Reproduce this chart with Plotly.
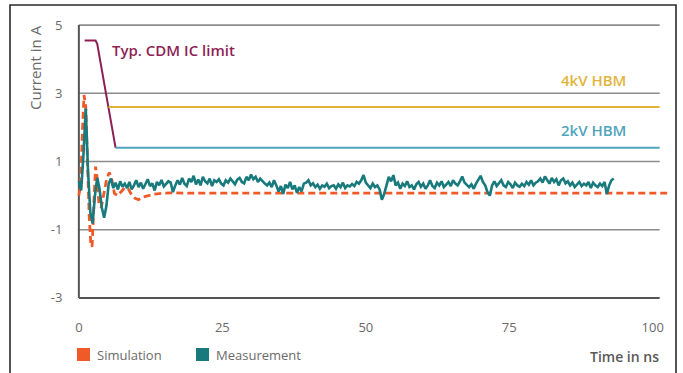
import numpy as np
import plotly.graph_objects as go

# ---- data ----------------------------------------------------------------
# measured current, sampled every 0.4 ns starting at t = 0
meas_dt = 0.4
meas_current = [
    0.42, 0.15, 1.2, 2.55, 0.7, -0.5, -0.82, 0.0, 0.52, 0.2, -0.35, -0.65, -0.3, 0.35, 0.5, 0.22, 0.38, 0.18, 0.42, 0.26,
    0.35, 0.22, 0.4, 0.18, 0.3, 0.45, 0.25, 0.38, 0.2, 0.33, 0.48, 0.28, 0.36, 0.15, 0.4, 0.3, 0.46, 0.27, 0.35, 0.42,
    0.38, 0.1, 0.3, 0.45, 0.32, 0.52, 0.35, 0.28, 0.5, 0.4, 0.58, 0.33, 0.47, 0.3, 0.55, 0.42, 0.36, 0.5, 0.28, 0.45,
    0.4, 0.48, 0.35, 0.3, 0.45, 0.38, 0.5, 0.42, 0.33, 0.47, 0.52, 0.4, 0.36, 0.55, 0.45, 0.62, 0.48, 0.55, 0.4, 0.5,
    0.42, 0.35, 0.3, 0.38, 0.25, 0.45, 0.3, 0.12, 0.28, 0.05, 0.32, 0.22, 0.4, 0.18, 0.3, 0.08, 0.25, 0.12, 0.35, 0.38,
    0.45, 0.3, 0.36, 0.25, 0.32, 0.2, 0.3, 0.26, 0.35, 0.22, 0.28, 0.3, 0.2, 0.33, 0.25, 0.38, 0.22, 0.3, 0.27, 0.34,
    0.28, 0.4, 0.35, 0.45, 0.6, 0.38, 0.3, 0.22, 0.35, 0.25, 0.3, 0.18, -0.12, 0.05, 0.3, 0.55, 0.42, 0.6, 0.3, 0.38,
    0.2, 0.35, 0.28, 0.42, 0.25, 0.3, 0.18, 0.33, 0.4, 0.26, 0.35, 0.2, 0.3, 0.45, 0.28, 0.22, 0.38, 0.3, 0.42, 0.25,
    0.32, 0.4, 0.28, 0.45, 0.35, 0.3, 0.42, 0.56, 0.38, 0.3, 0.25, 0.33, 0.2, 0.35, 0.45, 0.58, 0.4, 0.3, 0.1, 0.0,
    0.3, 0.42, 0.28, 0.35, 0.45, 0.3, 0.25, 0.4, 0.33, 0.22, 0.38, 0.3, 0.26, 0.35, 0.28, 0.4, 0.32, 0.45, 0.3, 0.38,
    0.42, 0.5, 0.38, 0.56, 0.45, 0.35, 0.52, 0.4, 0.48, 0.3, 0.45, 0.5, 0.36, 0.42, 0.3, 0.38, 0.25, 0.33, 0.4, 0.28,
    0.35, 0.3, 0.4, 0.22, 0.38, 0.3, 0.25, 0.35, 0.28, 0.4, 0.05, 0.3, 0.45, 0.5,
]
meas_time = np.arange(len(meas_current)) * meas_dt

# simulated current
sim_time = [0.0, 0.3, 0.6, 0.9, 1.2, 1.5, 1.8, 2.1, 2.3, 2.6, 2.9, 3.2, 3.5, 3.9, 4.3, 4.8,
            5.3, 5.7, 6.2, 6.8, 7.4, 8.0, 8.6, 9.2, 9.8, 10.4, 11.0, 12.0, 13.0, 14.0,
            16.0, 20.0, 40.0, 60.0, 80.0, 102.5]
sim_current = [0.0, 0.3, 1.8, 2.95, 2.6, 0.8, -0.6, -1.45, -1.5, -0.3, 0.85, 0.5, -0.25, -0.35,
               0.0, 0.45, 0.68, 0.5, 0.06, 0.0, 0.12, 0.24, 0.2, 0.02, -0.08, -0.12, -0.05,
               0.0, 0.04, 0.06, 0.08, 0.07, 0.07, 0.07, 0.07, 0.07]

# limit curves
cdm_time = [1.0, 2.9, 3.2, 6.4]
cdm_current = [4.55, 4.55, 4.45, 1.4]
hbm4_time = [5.15, 101.2]
hbm4_current = [2.6, 2.6]
hbm2_time = [6.4, 101.2]
hbm2_current = [1.4, 1.4]

y_ticks = [5, 3, 1, -1, -3]
y_tick_text = ["5", "3", "1", "-1", "-3"]
x_ticks = [0, 25, 50, 75, 100]
x_tick_text = ["0", "25", "50", "75", "100"]

# ---- colours ---------------------------------------------------------------
C_SIM = "#F05A28"
C_MEAS = "#187A7C"
C_CDM = "#8E1F55"
C_HBM4 = "#E2B43C"
C_HBM2 = "#4FA5BC"
C_TEXT = "#6a6a6a"
FONT = "Open Sans"

fig = go.Figure()

fig.add_trace(go.Scatter(x=cdm_time, y=cdm_current, mode="lines",
                         line=dict(color=C_CDM, width=2), showlegend=False))
fig.add_trace(go.Scatter(x=hbm4_time, y=hbm4_current, mode="lines",
                         line=dict(color=C_HBM4, width=2), showlegend=False))
fig.add_trace(go.Scatter(x=hbm2_time, y=hbm2_current, mode="lines",
                         line=dict(color=C_HBM2, width=2), showlegend=False))
fig.add_trace(go.Scatter(x=sim_time, y=sim_current, mode="lines",
                         line=dict(color=C_SIM, width=2.8, dash="7px,4px"),
                         showlegend=False))
fig.add_trace(go.Scatter(x=meas_time, y=meas_current, mode="lines",
                         line=dict(color=C_MEAS, width=2.6), showlegend=False))

# horizontal grid lines and the left axis line
shapes = []
for v in y_ticks:
    dark = v == -3
    shapes.append(dict(type="line", xref="x", yref="y", x0=0, x1=101.2, y0=v, y1=v,
                       line=dict(color="#555555" if dark else "#8C8C8C",
                                 width=2 if dark else 1.6), layer="below"))
shapes.append(dict(type="line", xref="x", yref="y", x0=0, x1=0, y0=-3, y1=5,
                   line=dict(color="#555555", width=2), layer="below"))

# outer frame
L, R, T, B = 76, 13, 20, 70
W, H = 683, 373
pw, ph = W - L - R, H - T - B


def px_x(p):
    return (p - L) / pw


def px_y(p):
    return (H - B - p) / ph


shapes.append(dict(type="rect", xref="paper", yref="paper",
                   x0=px_x(10), x1=px_x(676), y0=px_y(390), y1=px_y(5),
                   line=dict(color="#2a2a2a", width=1.6), fillcolor="rgba(0,0,0,0)"))

# legend swatches
shapes.append(dict(type="rect", xref="paper", yref="paper",
                   x0=px_x(77), x1=px_x(90), y0=px_y(361), y1=px_y(348),
                   line=dict(width=0), fillcolor=C_SIM))
shapes.append(dict(type="rect", xref="paper", yref="paper",
                   x0=px_x(196), x1=px_x(209), y0=px_y(361), y1=px_y(348),
                   line=dict(width=0), fillcolor=C_MEAS))

annotations = [
    dict(text="Typ. CDM IC limit", x=5.5, y=4.26, xref="x", yref="y",
         xanchor="left", yanchor="middle", showarrow=False,
         font=dict(family=FONT, size=15, color=C_CDM, weight=600)),
    dict(text="4kV HBM", x=95.6, y=3.38, xref="x", yref="y",
         xanchor="right", yanchor="middle", showarrow=False,
         font=dict(family=FONT, size=15, color=C_HBM4, weight=600)),
    dict(text="2kV HBM", x=95.6, y=1.91, xref="x", yref="y",
         xanchor="right", yanchor="middle", showarrow=False,
         font=dict(family=FONT, size=15, color=C_HBM2, weight=600)),
    dict(text="Current in A", x=px_x(35), y=px_y(68), xref="paper", yref="paper",
         textangle=-90, xanchor="center", yanchor="middle", showarrow=False,
         font=dict(family=FONT, size=15, color=C_TEXT)),
    dict(text="Time in ns", x=px_x(661), y=px_y(356), xref="paper", yref="paper",
         xanchor="right", yanchor="middle", showarrow=False,
         font=dict(family=FONT, size=14, color="#585858", weight=600)),
    dict(text="Simulation", x=px_x(95), y=px_y(355), xref="paper", yref="paper",
         xanchor="left", yanchor="middle", showarrow=False,
         font=dict(family=FONT, size=13, color=C_TEXT)),
    dict(text="Measurement", x=px_x(214), y=px_y(355), xref="paper", yref="paper",
         xanchor="left", yanchor="middle", showarrow=False,
         font=dict(family=FONT, size=13, color=C_TEXT)),
]

fig.update_layout(
    width=W, height=H,
    margin=dict(l=L, r=R, t=T, b=B, pad=0),
    paper_bgcolor="white", plot_bgcolor="white",
    showlegend=False,
    shapes=shapes, annotations=annotations,
    font=dict(family=FONT, color=C_TEXT),
    xaxis=dict(range=[-0.5, 103], showgrid=False, zeroline=False, showline=False,
               tickmode="array", tickvals=x_ticks, ticktext=x_tick_text,
               ticks="outside", ticklen=12, tickcolor="rgba(0,0,0,0)",
               tickfont=dict(family=FONT, size=13, color=C_TEXT)),
    yaxis=dict(range=[-3.15, 5.15], showgrid=False, zeroline=False, showline=False,
               tickmode="array", tickvals=y_ticks, ticktext=y_tick_text,
               ticks="outside", ticklen=10, tickcolor="rgba(0,0,0,0)",
               tickfont=dict(family=FONT, size=13, color=C_TEXT)),
)

fig.write_html("out.html")
